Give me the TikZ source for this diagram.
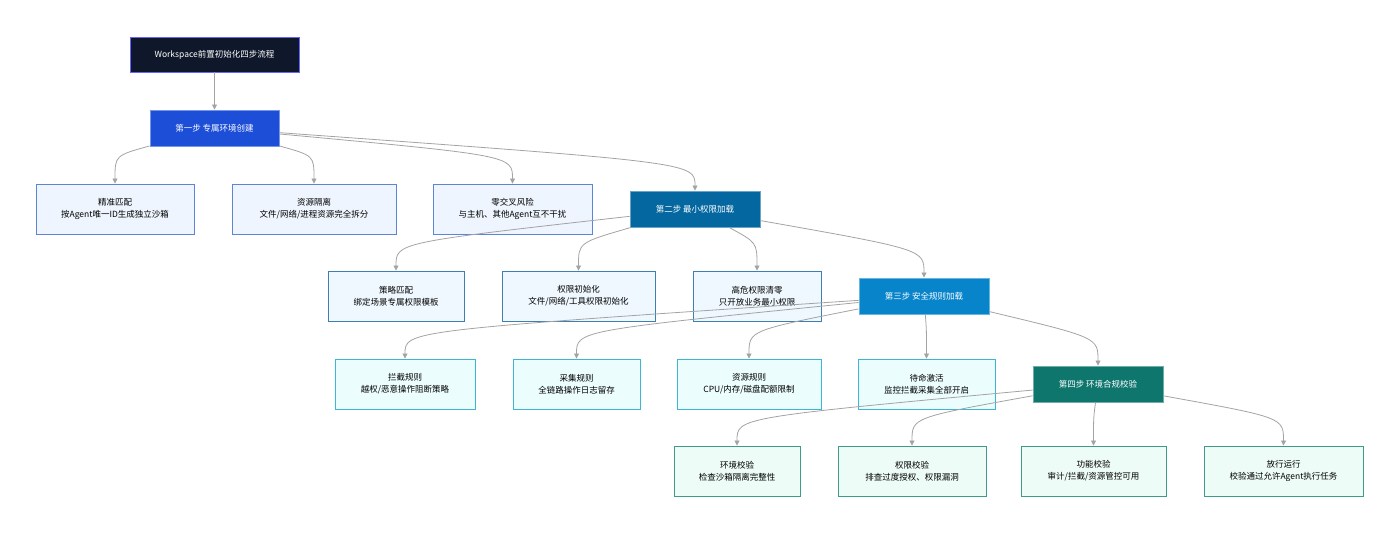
\documentclass[tikz,border=0pt]{standalone}
\usepackage{fontspec}
\setmainfont{Noto Sans CJK SC}
\usetikzlibrary{calc,arrows.meta}
\definecolor{ed}{HTML}{A3A3A3}
\tikzset{
 box/.style={draw,line width=0.9pt,font=\fontsize{8.5}{12}\selectfont,align=center,inner sep=0pt},
 step/.style={box,text=white,draw=#1!60!white,fill=#1},
 la/.style={box,fill=A,draw=Ab},
 lb/.style={box,fill=B,draw=Bb},
 lc/.style={box,fill=C,draw=Cb},
 ld/.style={box,fill=D,draw=Db},
 edge/.style={draw=ed,line width=0.8pt,-{Triangle[length=5pt,width=5pt]}},
}
\definecolor{A}{HTML}{EFF5FE}\definecolor{Ab}{HTML}{5B86D6}
\definecolor{B}{HTML}{EFF8FE}\definecolor{Bb}{HTML}{3F7FAF}
\definecolor{C}{HTML}{ECFDFE}\definecolor{Cb}{HTML}{3DB6D3}
\definecolor{D}{HTML}{EEFCF8}\definecolor{Db}{HTML}{3E9A8B}
\definecolor{t0}{HTML}{0F172A}\definecolor{t1}{HTML}{1D4ED8}
\definecolor{t2}{HTML}{0567A0}\definecolor{t3}{HTML}{0784CA}\definecolor{t4}{HTML}{0F766E}
\newcommand{\bx}[6]{\node[#1,minimum width=#4-#2,minimum height=#5-#3] (#6) at ({(#2+#4)/2},{(#3+#5)/2})}
\begin{document}
\begin{tikzpicture}[x=1pt,y=-1pt]
\useasboundingbox (0,0) rectangle (1400,533);
\bx{step=t0,draw=blue!60!white}{130}{37}{299}{72}{t}{Workspace前置初始化四步流程};
\bx{step=t1}{150}{110}{279}{146}{s1}{第一步 专属环境创建};
\bx{la}{36}{184}{194}{234}{a1}{精准匹配\\按Agent唯一ID生成独立沙箱};
\bx{la}{232}{184}{396}{234}{a2}{资源隔离\\文件/网络/进程资源完全拆分};
\bx{la}{433}{184}{592}{234}{a3}{零交叉风险\\与主机、其他Agent互不干扰};
\bx{step=t2}{630}{191}{760}{227}{s2}{第二步 最小权限加载};
\bx{lb}{328}{271}{464}{321}{b1}{策略匹配\\绑定场景专属权限模板};
\bx{lb}{502}{271}{655}{321}{b2}{权限初始化\\文件/网络/工具权限初始化};
\bx{lb}{693}{271}{821}{321}{b3}{高危权限清零\\只开放业务最小权限};
\bx{step=t3}{859}{278}{989}{314}{s3}{第三步 安全规则加载};
\bx{lc}{335}{359}{475}{409}{c1}{拦截规则\\越权/恶意操作阻断策略};
\bx{lc}{513}{359}{640}{409}{c2}{采集规则\\全链路操作日志留存};
\bx{lc}{677}{359}{821}{409}{c3}{资源规则\\CPU/内存/磁盘配额限制};
\bx{lc}{858}{359}{995}{409}{c4}{待命激活\\监控拦截采集全部开启};
\bx{step=t4}{1033}{366}{1163}{402}{s4}{第四步 环境合规校验};
\bx{ld}{674}{446}{800}{496}{d1}{环境校验\\检查沙箱隔离完整性};
\bx{ld}{838}{446}{986}{496}{d2}{权限校验\\排查过度授权、权限漏洞};
\bx{ld}{1021}{446}{1166}{496}{d3}{功能校验\\审计/拦截/资源管控可用};
\bx{ld}{1204}{446}{1363}{496}{d4}{放行运行\\校验通过允许Agent执行任务};
\draw[edge] (t) -- (s1);
\foreach \p/\c in {s1/a1,s1/a2,s1/a3,s1/s2,s2/b1,s2/b2,s2/b3,s2/s3,s3/c1,s3/c2,s3/c3,s3/c4,s3/s4,s4/d1,s4/d2,s4/d3,s4/d4}
  \draw[edge] (\p) .. controls ($(\c.north)+(0,-28)$) .. (\c.north);
\end{tikzpicture}
\end{document}
